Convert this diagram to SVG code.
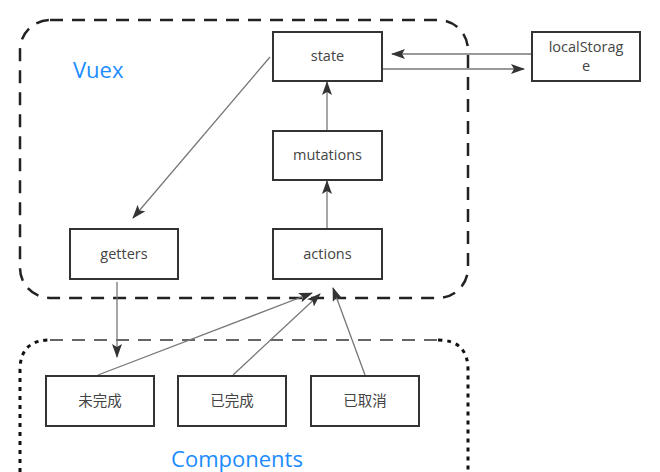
<svg xmlns="http://www.w3.org/2000/svg" width="660" height="472" viewBox="0 0 660 472">
<style>
.box{fill:#fff;stroke:#333;stroke-width:2}
.lbl{font-family:"Open Sans","Noto Sans CJK SC",sans-serif;font-size:14.5px;fill:#444;text-anchor:middle}
.title{font-family:"Open Sans","Noto Sans",sans-serif;font-size:22px;fill:#1a8cff}
.conn{stroke:#777;stroke-width:1.3;fill:none;marker-end:url(#ah)}
</style>
<defs>
<marker id="ah" viewBox="0 0 14 10" refX="13" refY="5" markerWidth="14" markerHeight="10" markerUnits="userSpaceOnUse" orient="auto">
<path d="M0,0 L14,5 L0,10 L3,5 Z" fill="#333"/>
</marker>
</defs>
<rect width="660" height="472" fill="#fff"/>
<g id="vuex-container">
<rect x="20" y="20" width="448" height="278" rx="30" ry="30" fill="none" stroke="#222" stroke-width="2.5" stroke-dasharray="13 9"/>
<text class="title" x="73" y="78">Vuex</text>
</g>
<g id="components-container">
<path d="M20,472 L20,370 Q20,340 50,340" fill="none" stroke="#111" stroke-width="3" stroke-dasharray="4 5"/>
<path d="M50,340 L438,340" fill="none" stroke="#666" stroke-width="2" stroke-dasharray="13 9"/>
<path d="M438,340 Q468,340 468,370 L468,472" fill="none" stroke="#111" stroke-width="3" stroke-dasharray="4 5"/>
<text class="title" x="237" y="467" text-anchor="middle">Components</text>
</g>
<g id="connectors">
<line class="conn" x1="270" y1="57" x2="133" y2="218"/>
<line class="conn" x1="532" y1="54" x2="392" y2="54"/>
<line class="conn" x1="382" y1="69" x2="524" y2="69"/>
<line class="conn" x1="327" y1="130" x2="327" y2="82"/>
<line class="conn" x1="327" y1="229" x2="327" y2="181"/>
<line class="conn" x1="117" y1="282" x2="117" y2="357"/>
<line class="conn" x1="98" y1="375" x2="312" y2="293"/>
<line class="conn" x1="233" y1="375" x2="320" y2="294"/>
<line class="conn" x1="365" y1="375" x2="333" y2="288"/>
</g>
<g id="state"><rect class="box" x="273" y="32" width="109" height="49"/><text class="lbl" x="327.5" y="61">state</text></g>
<g id="mutations"><rect class="box" x="273" y="131" width="109" height="49"/><text class="lbl" x="327.5" y="160">mutations</text></g>
<g id="actions"><rect class="box" x="273" y="229" width="109" height="50"/><text class="lbl" x="327.5" y="259">actions</text></g>
<g id="getters"><rect class="box" x="70" y="229" width="108" height="50"/><text class="lbl" x="124" y="259">getters</text></g>
<g id="localStorage"><rect class="box" x="532" y="32" width="108" height="49"/><text class="lbl" x="586" y="52">localStorag</text><text class="lbl" x="586" y="71">e</text></g>
<g id="weiwancheng"><rect class="box" x="46" y="376" width="108" height="50"/><text class="lbl" x="100" y="406">未完成</text></g>
<g id="yiwancheng"><rect class="box" x="178" y="376" width="108" height="50"/><text class="lbl" x="232" y="406">已完成</text></g>
<g id="yiquxiao"><rect class="box" x="311" y="376" width="108" height="50"/><text class="lbl" x="365" y="406">已取消</text></g>
</svg>
